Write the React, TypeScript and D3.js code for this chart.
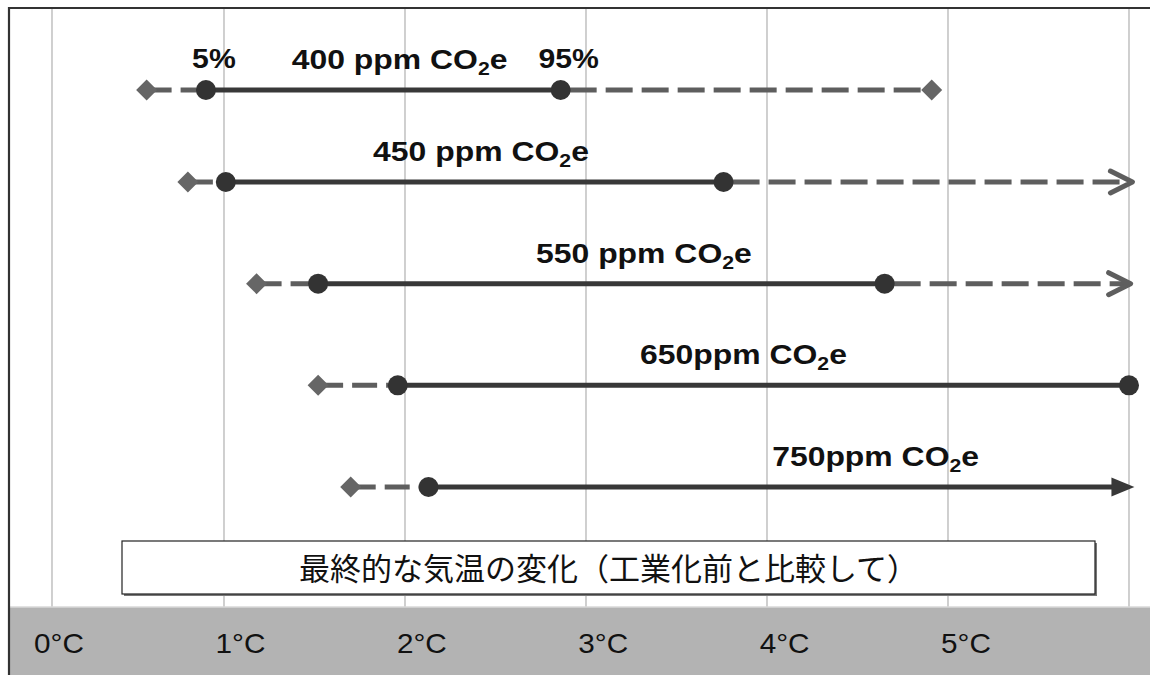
import React from "react";
import * as d3 from "d3";

// ---- data (temperature change in °C) ----
const scenarios = ["400 ppm", "450 ppm", "550 ppm", "650ppm", "750ppm"];
const lowTail = [0.55, 0.79, 1.18, 1.52, 1.7];
const p5 = [0.895, 1.01, 1.52, 1.96, 2.13];
const p95 = [2.86, 3.76, 4.65, 6.0, 6.03];
const highTail = [4.91, 6.03, 6.02, NaN, NaN];
const p95Marker = ["circle", "circle", "circle", "circle", "arrow"];
const highMarker = ["diamond", "arrow", "arrow", "none", "none"];
const labelCenter = [1.97, 2.42, 3.32, 3.87, 4.6];
const pctLabels = ["5%", "95%"];
const gridTicks = [0, 1, 2, 3, 4, 5, 6];
const tickValues = [0, 1, 2, 3, 4, 5];
const tickLabels = ["0°C", "1°C", "2°C", "3°C", "4°C", "5°C"];
const axisTitle = "最終的な気温の変化（工業化前と比較して）";

const W = 1150;
const H = 675;
const FRAME_L = 9;
const FRAME_T = 8;
const BAND_T = 607;

const x = d3.scaleLinear().domain([0, 1, 6]).range([52, 224, 1129]);
const xLabel = d3.scaleLinear().domain([0, 5]).range([59, 966]);
const y = d3.scaleLinear().domain([0, 1, 4]).range([90, 182, 487]);

const SOLID = "#383838";
const DASH = "#5e5e5e";
const DOT = "#333333";
const DIAM = "#666666";
const LATIN = "'Liberation Sans', Arial, sans-serif";
const CJK = "'Noto Sans CJK JP', sans-serif";

function Diamond({ cx, cy }: { cx: number; cy: number }) {
  const r = 10.5;
  return (
    <path
      d={`M${cx - r},${cy}L${cx},${cy - r}L${cx + r},${cy}L${cx},${cy + r}Z`}
      fill={DIAM}
    />
  );
}

function Chevron({ tx, ty, color }: { tx: number; ty: number; color: string }) {
  return (
    <path
      d={`M${tx - 24},${ty - 11}L${tx - 2},${ty}L${tx - 24},${ty + 11}`}
      fill="none"
      stroke={color}
      strokeWidth={5}
      strokeLinecap="round"
      strokeLinejoin="round"
    />
  );
}

function RowLabel({ name, cx, cy }: { name: string; cx: number; cy: number }) {
  return (
    <g transform={`translate(${cx},${cy}) scale(1.12,1)`}>
      <text
        textAnchor="middle"
        fontFamily={LATIN}
        fontWeight="bold"
        fontSize={28.5}
        fill="#111"
      >
        {name + " CO"}
        <tspan fontSize={19} dy={6}>2</tspan>
        <tspan dy={-6}>e</tspan>
      </text>
    </g>
  );
}

export default function App() {
  return (
    <svg
      width={W}
      height={H}
      viewBox={`0 0 ${W} ${H}`}
      style={{ position: "absolute", left: 0, top: 0, display: "block", background: "#fff" }}
    >
      {/* gridlines */}
      {gridTicks.map((t) => (
        <line
          key={"g" + t}
          x1={x(t)}
          x2={x(t)}
          y1={FRAME_T}
          y2={BAND_T}
          stroke="#c4c4c4"
          strokeWidth={1.6}
        />
      ))}

      {/* rows */}
      {scenarios.map((name, i) => {
        const cy = y(i);
        const xl = x(lowTail[i]);
        const x5 = x(p5[i]);
        const x95 = x(p95[i]);
        const hasHigh = !isNaN(highTail[i]);
        const xh = hasHigh ? x(highTail[i]) : 0;
        return (
          <g key={name}>
            {/* left dashed tail */}
            <line
              x1={xl}
              x2={x5 - 9}
              y1={cy}
              y2={cy}
              stroke={DASH}
              strokeWidth={5}
              strokeDasharray="25 9"
            />
            {/* right dashed tail */}
            {hasHigh && (
              <line
                x1={x95 + 9}
                x2={highMarker[i] === "arrow" ? xh - 3 : xh}
                y1={cy}
                y2={cy}
                stroke={DASH}
                strokeWidth={5}
                strokeDasharray="27 9"
              />
            )}
            {/* solid 5-95% range */}
            <line
              x1={x5}
              x2={p95Marker[i] === "arrow" ? x95 - 14 : x95}
              y1={cy}
              y2={cy}
              stroke={SOLID}
              strokeWidth={5}
            />
            <Diamond cx={xl} cy={cy} />
            <circle cx={x5} cy={cy} r={10} fill={DOT} />
            {p95Marker[i] === "circle" ? (
              <circle cx={x95} cy={cy} r={10} fill={DOT} />
            ) : (
              <path
                d={`M${x95},${cy}L${x95 - 23},${cy - 9.5}L${x95 - 23},${cy + 9.5}Z`}
                fill={SOLID}
              />
            )}
            {hasHigh && highMarker[i] === "diamond" && <Diamond cx={xh} cy={cy} />}
            {hasHigh && highMarker[i] === "arrow" && <Chevron tx={xh} ty={cy} color={DASH} />}
            <RowLabel name={name} cx={x(labelCenter[i])} cy={cy - 21} />
          </g>
        );
      })}

      {/* percentile labels on first row */}
      {[p5[0], p95[0]].map((v, k) => (
        <g key={"pct" + k} transform={`translate(${x(v) + 8},${y(0) - 22}) scale(1.06,1)`}>
          <text textAnchor="middle" fontFamily={LATIN} fontWeight="bold" fontSize={28.5} fill="#111">
            {pctLabels[k]}
          </text>
        </g>
      ))}

      {/* axis title box */}
      <rect x={124} y={543} width={973} height={53} fill="#777" />
      <rect x={122} y={541} width={973} height={53} fill="#fff" stroke="#222" strokeWidth={1.2} />
      <text
        x={(122 + 1095) / 2}
        y={580}
        textAnchor="middle"
        fontFamily={CJK}
        fontSize={31}
        fill="#111"
      >
        {axisTitle}
      </text>

      {/* gray axis band */}
      <rect x={FRAME_L} y={BAND_T} width={W - FRAME_L} height={H - BAND_T} fill="#b3b3b3" />
      <line x1={FRAME_L} x2={W} y1={BAND_T} y2={BAND_T} stroke="#d8d8d8" strokeWidth={1.5} />
      {tickValues.map((t, k) => (
        <g key={"t" + t} transform={`translate(${xLabel(t)},${653}) scale(1.08,1)`}>
          <text textAnchor="middle" fontFamily={LATIN} fontSize={27.5} fill="#111">
            {tickLabels[k]}
          </text>
        </g>
      ))}

      {/* frame */}
      <line x1={FRAME_L} x2={W} y1={FRAME_T} y2={FRAME_T} stroke="#333" strokeWidth={2.2} />
      <line x1={FRAME_L} x2={FRAME_L} y1={FRAME_T - 1} y2={H} stroke="#333" strokeWidth={2.2} />
    </svg>
  );
}
